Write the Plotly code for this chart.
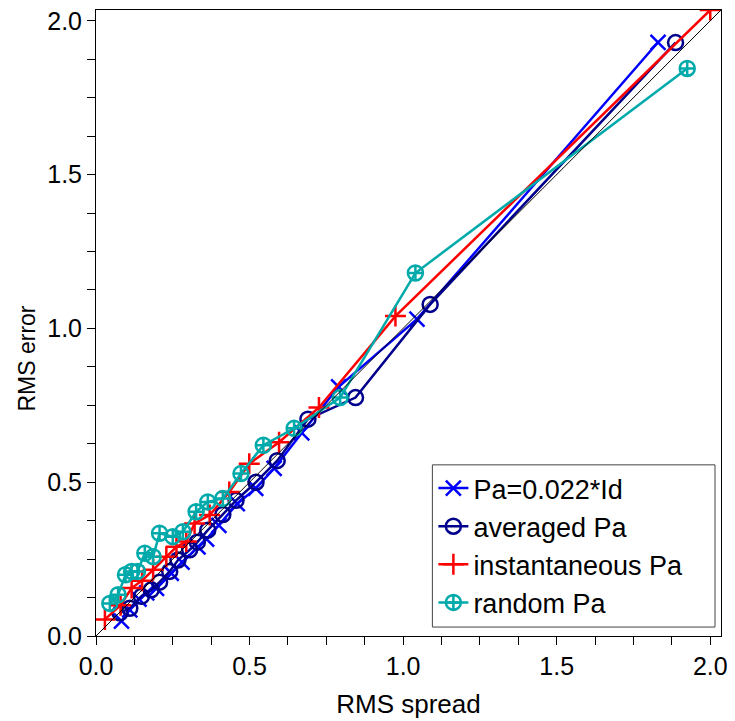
import plotly.graph_objects as go

# ---- data ----
id_x = [0.083, 0.11, 0.14, 0.165, 0.197, 0.245, 0.28, 0.332, 0.36, 0.40, 0.46, 0.52, 0.58, 0.67, 0.79, 1.045, 1.83]
id_y = [0.048, 0.085, 0.12, 0.14, 0.155, 0.204, 0.24, 0.29, 0.315, 0.36, 0.43, 0.48, 0.545, 0.66, 0.81, 1.03, 1.93]

avg_x = [0.078, 0.11, 0.148, 0.18, 0.207, 0.24, 0.267, 0.305, 0.33, 0.364, 0.413, 0.456, 0.521, 0.59, 0.69, 0.845, 1.088, 1.887]
avg_y = [0.075, 0.09, 0.129, 0.15, 0.175, 0.21, 0.247, 0.28, 0.305, 0.344, 0.395, 0.441, 0.50, 0.57, 0.705, 0.775, 1.078, 1.929]

ins_x = [0.029, 0.08, 0.116, 0.15, 0.186, 0.229, 0.262, 0.294, 0.321, 0.37, 0.434, 0.499, 0.596, 0.726, 0.975, 2.0]
ins_y = [0.054, 0.10, 0.156, 0.18, 0.215, 0.258, 0.29, 0.307, 0.366, 0.393, 0.468, 0.56, 0.63, 0.743, 1.04, 2.035]

rnd_x = [0.045, 0.072, 0.096, 0.116, 0.135, 0.159, 0.186, 0.207, 0.25, 0.283, 0.326, 0.364, 0.413, 0.472, 0.545, 0.645, 0.795, 1.04, 1.925]
rnd_y = [0.106, 0.134, 0.199, 0.21, 0.21, 0.269, 0.258, 0.334, 0.323, 0.339, 0.404, 0.436, 0.447, 0.528, 0.62, 0.675, 0.775, 1.18, 1.845]

names = ["Pa=0.022*Id", "averaged Pa", "instantaneous Pa", "random Pa"]
colors = ["#0000FF", "#00008C", "#FF0000", "#00AAAA"]
symbols = ["x-thin-open", "circle-open", "cross-thin-open", "circle-cross-open"]

diag = [0.0, 2.035]
ax_range = [0, 2.035]
tickvals = [0.0, 0.5, 1.0, 1.5, 2.0]
ticktext = ["0.0", "0.5", "1.0", "1.5", "2.0"]

fig = go.Figure()
series = [(id_x, id_y), (avg_x, avg_y), (ins_x, ins_y), (rnd_x, rnd_y)]
for i, (xs, ys) in enumerate(series):
    fig.add_trace(go.Scatter(
        x=xs, y=ys, mode="lines+markers", name=names[i], legendgroup=names[i],
        line=dict(color=colors[i], width=2.5),
        marker=dict(symbol=symbols[i], size=15, color=colors[i],
                    line=dict(color=colors[i], width=2.5)),
    ))

fig.add_trace(go.Scatter(x=diag, y=diag, mode="lines", showlegend=False,
                         line=dict(color="black", width=1), hoverinfo="skip"))

axis_common = dict(
    range=ax_range, showgrid=False, zeroline=False, showline=True,
    linecolor="black", linewidth=1, mirror=True,
    ticks="outside", ticklen=8, tickwidth=1, tickcolor="black",
    tickvals=tickvals, ticktext=ticktext,
    tickfont=dict(family="Liberation Sans, Arial", size=25, color="black"),
    minor=dict(dtick=0.125, ticks="outside", ticklen=8, tickwidth=1, tickcolor="black", showgrid=False),
)

fig.update_layout(
    width=735, height=721,
    margin=dict(l=96, r=11, t=7, b=85),
    paper_bgcolor="white", plot_bgcolor="white",
    font=dict(family="Liberation Sans, Arial", color="black"),
    xaxis=dict(**axis_common, title=dict(text="RMS spread", font=dict(size=26), standoff=15)),
    yaxis=dict(**axis_common),
    legend=dict(
        x=0.5398, y=0.0143, xanchor="left", yanchor="bottom",
        bgcolor="rgba(0,0,0,0)", borderwidth=0,
        font=dict(size=27, color="black"),
        itemwidth=30, tracegroupgap=0,
    ),
    showlegend=True,
    shapes=[dict(
        type="rect", xref="paper", yref="paper",
        x0=0.5382, x1=0.9904, y0=0.0143, y1=0.2734,
        fillcolor="white", line=dict(color="#444444", width=1), layer="above",
    )],
    annotations=[dict(
        text="RMS error", textangle=-90, xref="paper", yref="paper",
        x=-0.11, y=0.4436, xanchor="center", yanchor="middle",
        showarrow=False, font=dict(size=23, color="black"),
    )],
)

fig.write_html("out.html")
